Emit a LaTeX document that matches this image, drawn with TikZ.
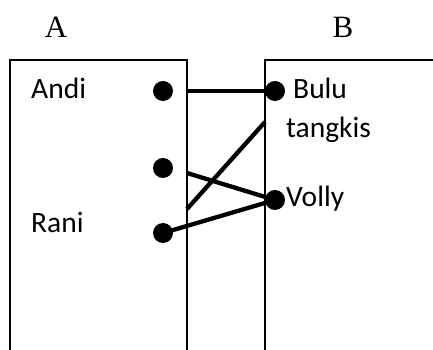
\documentclass[tikz,border=0pt]{standalone}
\usepackage{fontspec}
\setmainfont{Liberation Serif}
\newfontfamily\labelfont{Carlito}

\begin{document}
\begin{tikzpicture}[x=1pt, y=1pt,
  dot/.style={circle, fill=black, inner sep=0pt, minimum size=20pt},
  member/.style={font=\labelfont\fontsize{29.5}{34}\selectfont, inner sep=0pt, anchor=base west},
  setname/.style={font=\fontsize{31}{36}\selectfont, inner sep=0pt, anchor=base},
  link/.style={line width=4.3pt}]
\useasboundingbox (0, 0) rectangle (433, 350);

% the two sets
\draw[line width=1.3pt] (10, 0) -- (10, 290) -- (187, 290) -- (187, 0);
\draw[line width=1.3pt] (265, 0) -- (265, 290) -- (440, 290);

\draw
(56, 312) node[setname](seta){A}
(343, 312) node[setname](setb){B}

(31, 251) node[member](andi){Andi}
(31, 117) node[member](rani){Rani}
(293, 251) node[member](bulu){Bulu}
(286, 212) node[member](tangkis){tangkis}
(286, 143) node[member](volly){Volly}

(163, 259) node[dot](da){}
(163, 182) node[dot](dm){}
(163, 117) node[dot](dr){}
(275, 259) node[dot](db){}
(275, 150) node[dot](dv){};

\coordinate (ea) at (187, 259);
\coordinate (em) at (187, 177);
\coordinate (ex) at (187, 141);
\coordinate (eb) at (265, 228);

\draw[link] (ea) -- (db.center);
\draw[link] (em) -- (dv.center);
\draw[link] (ex) -- (eb);
\draw[link] (dr.center) -- (dv.center);
\end{tikzpicture}
\end{document}
